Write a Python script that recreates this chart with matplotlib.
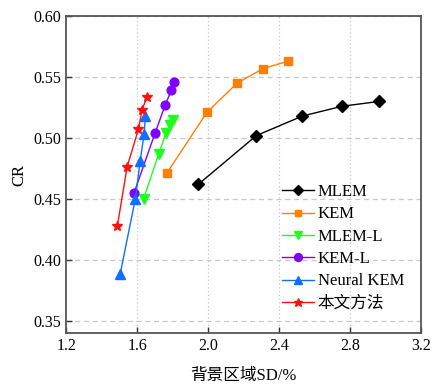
import matplotlib
matplotlib.use("Agg")
import matplotlib.pyplot as plt

plt.rcParams['font.family'] = ['Liberation Serif', 'Noto Sans CJK SC']

mlem_x = [1.945, 2.272, 2.531, 2.753, 2.963]
mlem_y = [0.462, 0.502, 0.518, 0.526, 0.530]
kem_x = [1.767, 1.993, 2.163, 2.310, 2.450]
kem_y = [0.471, 0.521, 0.545, 0.557, 0.563]
mleml_x = [1.636, 1.722, 1.762, 1.784, 1.801]
mleml_y = [0.450, 0.487, 0.504, 0.511, 0.515]
keml_x = [1.583, 1.701, 1.758, 1.792, 1.807]
keml_y = [0.455, 0.504, 0.527, 0.539, 0.546]
nkem_x = [1.504, 1.590, 1.617, 1.639, 1.647]
nkem_y = [0.388, 0.450, 0.481, 0.503, 0.518]
ours_x = [1.489, 1.544, 1.607, 1.628, 1.656]
ours_y = [0.428, 0.4765, 0.507, 0.523, 0.534]

labels = ['MLEM', 'KEM', 'MLEM-L', 'KEM-L', 'Neural KEM', '本文方法']
xticks = [1.2, 1.6, 2.0, 2.4, 2.8, 3.2]
yticks = [0.35, 0.40, 0.45, 0.50, 0.55, 0.60]

fig = plt.figure(figsize=(4.32, 3.84), dpi=100)
ax = fig.add_axes([0.153, 0.133, 0.822, 0.825])

series = [
    (mlem_x, mlem_y, 'black', 'D', 5.8),
    (kem_x, kem_y, '#ff8000', 's', 5.5),
    (mleml_x, mleml_y, '#1eff1e', 'v', 6.5),
    (keml_x, keml_y, '#8000ff', 'o', 6.3),
    (nkem_x, nkem_y, '#0f6fff', '^', 6.5),
    (ours_x, ours_y, '#ff1010', '*', 7),
]
for (x, y, c, m, ms), lab in zip(series, labels):
    ax.plot(x, y, color=c, marker=m, markersize=ms, lw=1.0, label=lab)

ax.set_xlim(1.2, 3.2)
ax.set_ylim(0.340, 0.600)
ax.set_xticks(xticks)
ax.set_xticklabels([f"{v:.1f}" for v in xticks])
ax.set_yticks(yticks)
ax.set_yticklabels([f"{v:.2f}" for v in yticks])
ax.tick_params(direction='in', labelsize=11.5, length=4, width=1, colors='#333333', labelcolor='black')

for v in xticks[1:-1]:
    ax.axvline(v, color='#c8c8c8', lw=0.9, ls=(0, (1, 2)), zorder=0)
for v in yticks:
    ax.axhline(v, color='#c8c8c8', lw=0.9, ls=(0, (4, 3)), zorder=0)

for s in ax.spines.values():
    s.set_color('#555555')
    s.set_linewidth(1.3)

ax.set_xlabel('背景区域SD/%', fontsize=12, labelpad=10)
ax.set_ylabel('CR', fontsize=12, labelpad=4)

ax.legend(loc='lower right', bbox_to_anchor=(0.985, 0.03), frameon=False, fontsize=12,
          handlelength=1.9, handletextpad=0.25, labelspacing=0.38, borderaxespad=0.3,
          markerscale=0.9)

fig.savefig('out.png', dpi=100)
